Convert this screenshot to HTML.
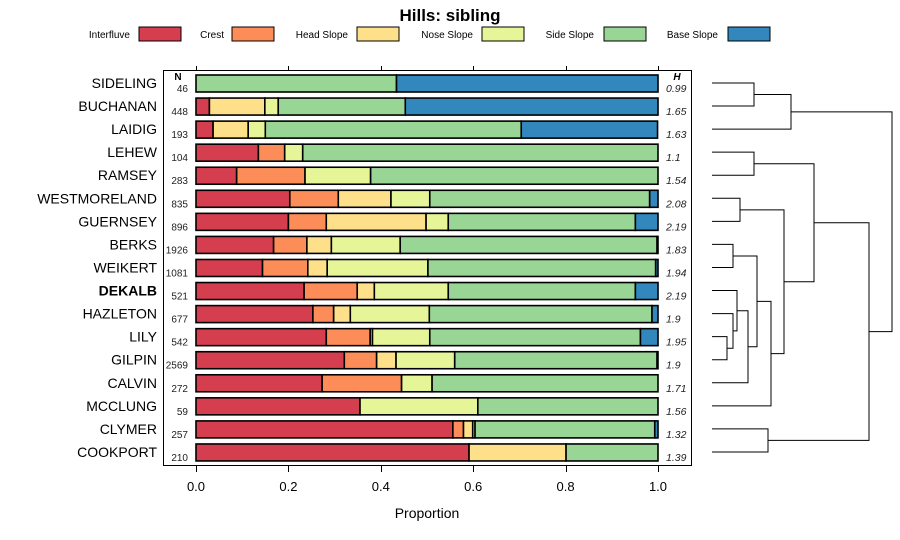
<!DOCTYPE html>
<html><head><meta charset="utf-8"><style>
body{margin:0;background:#fff;}
svg{display:block;font-family:"Liberation Sans",sans-serif;}
</style></head><body>
<svg id="chart" width="900" height="540" viewBox="0 0 900 540"></svg>
<script>
const categories=["SIDELING","BUCHANAN","LAIDIG","LEHEW","RAMSEY","WESTMORELAND","GUERNSEY","BERKS","WEIKERT","DEKALB","HAZLETON","LILY","GILPIN","CALVIN","MCCLUNG","CLYMER","COOKPORT"];
const seriesNames=["Interfluve","Crest","Head Slope","Nose Slope","Side Slope","Base Slope"];
const interfluve=[0,0.029,0.037,0.135,0.088,0.203,0.200,0.168,0.144,0.234,0.253,0.282,0.321,0.273,0.355,0.556,0.591];
const crest=[0,0,0,0.057,0.148,0.105,0.082,0.072,0.098,0.115,0.045,0.095,0.070,0.172,0,0.023,0];
const headSlope=[0,0.120,0.076,0,0,0.114,0.216,0.053,0.042,0.037,0.036,0.005,0.042,0,0,0.020,0.210];
const noseSlope=[0,0.029,0.037,0.039,0.142,0.084,0.048,0.149,0.218,0.160,0.171,0.124,0.127,0.066,0.255,0.005,0];
const sideSlope=[0.434,0.275,0.554,0.769,0.622,0.476,0.405,0.556,0.493,0.405,0.482,0.456,0.438,0.489,0.390,0.389,0.199];
const baseSlope=[0.566,0.547,0.295,0,0,0.018,0.049,0.002,0.005,0.049,0.013,0.038,0.002,0,0,0.007,0];
const nValues=["46","448","193","104","283","835","896","1926","1081","521","677","542","2569","272","59","257","210"];
const hValues=["0.99","1.65","1.63","1.1","1.54","2.08","2.19","1.83","1.94","2.19","1.9","1.95","1.9","1.71","1.56","1.32","1.39"];
const xTicks=[0,0.2,0.4,0.6,0.8,1.0];
const xTickLabels=["0.0","0.2","0.4","0.6","0.8","1.0"];
// dendrogram merges: [childA, childB, height]; leaves are 0..16, merges numbered 17+
const merges=[[0,1,42],[17,2,79],[3,4,42],[5,6,28],[7,8,21],[11,12,15],[10,22,21],[9,23,25],[24,13,36],[21,25,45],[26,14,59],[20,27,72],[19,28,102],[15,16,56],[29,30,157],[18,31,180]];
const colors=["#D53E4F","#FC8D59","#FEE08B","#E6F598","#99D594","#3288BD"];
const series=[interfluve,crest,headSlope,noseSlope,sideSlope,baseSlope];

const NS="http://www.w3.org/2000/svg";
const svg=document.getElementById('chart');
function mk(tag,attrs,parent){const e=document.createElementNS(NS,tag);for(const k in attrs)e.setAttribute(k,attrs[k]);(parent||svg).appendChild(e);return e;}
const x0=196,x1=658;
const xs=v=>x0+(x1-x0)*v;
const ys=i=>83+i*23.06;
const dx=h=>712+h;

// title
let t=mk('text',{x:450,y:21,'text-anchor':'middle','font-size':17,'font-weight':'bold'});
t.textContent="Hills: sibling";



// legend
const legTextEnd=[130,224,348,473,594,718];
const legRect=[139,232,357,482,604,728];
seriesNames.forEach((n,i)=>{
  const g=mk('g',{});
  
  
  const tx=mk('text',{x:legTextEnd[i],y:38,'text-anchor':'end','font-size':10,fill:'#000'},g);
  tx.textContent=n;
  mk('rect',{x:legRect[i],y:27,width:42,height:14,fill:colors[i],stroke:'#000','stroke-width':1},g);
});

// panel
const panel=mk('rect',{x:163.5,y:70.5,width:528,height:395,fill:'none',stroke:'#000','stroke-width':1});



// ticks
xTicks.forEach((v,i)=>{
  const x=Math.round(xs(v))+0.5;
  const tk=mk('line',{x1:x,x2:x,y1:465,y2:472,stroke:'#000'});
  
  
  mk('line',{x1:x,x2:x,y1:66,y2:70,stroke:'#000'});
  const lb=mk('text',{x:xs(v),y:491,'text-anchor':'middle','font-size':13});
  lb.textContent=xTickLabels[i];
  
  
});
const xt=mk('text',{x:427,y:518,'text-anchor':'middle','font-size':14});
xt.textContent="Proportion";



// headers
let nh=mk('text',{x:178,y:80,'text-anchor':'middle','font-size':10,'font-weight':'bold'});nh.textContent="N";


let hh=mk('text',{x:677,y:80,'text-anchor':'middle','font-size':10,'font-weight':'bold','font-style':'italic'});hh.textContent="H";



// bars
categories.forEach((c,i)=>{
  const y=ys(i);
  const lab=mk('text',{x:157,y:y+5,'text-anchor':'end','font-size':14,'font-weight':c==="DEKALB"?'bold':'normal'});
  lab.textContent=c;
  
  
  const nt=mk('text',{x:188,y:y+9,'text-anchor':'end','font-size':10,fill:'#222'});
  nt.textContent=nValues[i];
  
  
  const ht=mk('text',{x:666,y:y+9,'text-anchor':'start','font-size':10.5,'font-style':'italic',fill:'#222'});
  ht.textContent=hValues[i];
  
  
  let cum=0;
  series.forEach((s,k)=>{
    const v=s[i];
    if(v>0){
      const r=mk('rect',{x:xs(cum),y:y-8,width:xs(cum+v)-xs(cum),height:17,fill:colors[k],stroke:'#000','stroke-width':1.6});
      
      
    }
    cum+=v;
  });
});

// dendrogram
const nodeY=categories.map((c,i)=>ys(i));
const nodeH=categories.map(()=>0);
const dg=mk('g',{fill:'none',stroke:'#000','stroke-width':1});


merges.forEach(m=>{
  const [a,b,h]=m;
  const ya=nodeY[a],yb=nodeY[b];
  const p=mk('path',{d:`M${dx(nodeH[a])},${ya}H${dx(h)}V${yb}H${dx(nodeH[b])}`},dg);
  
  
  nodeY.push((ya+yb)/2);nodeH.push(h);
});
</script>
</body></html>
